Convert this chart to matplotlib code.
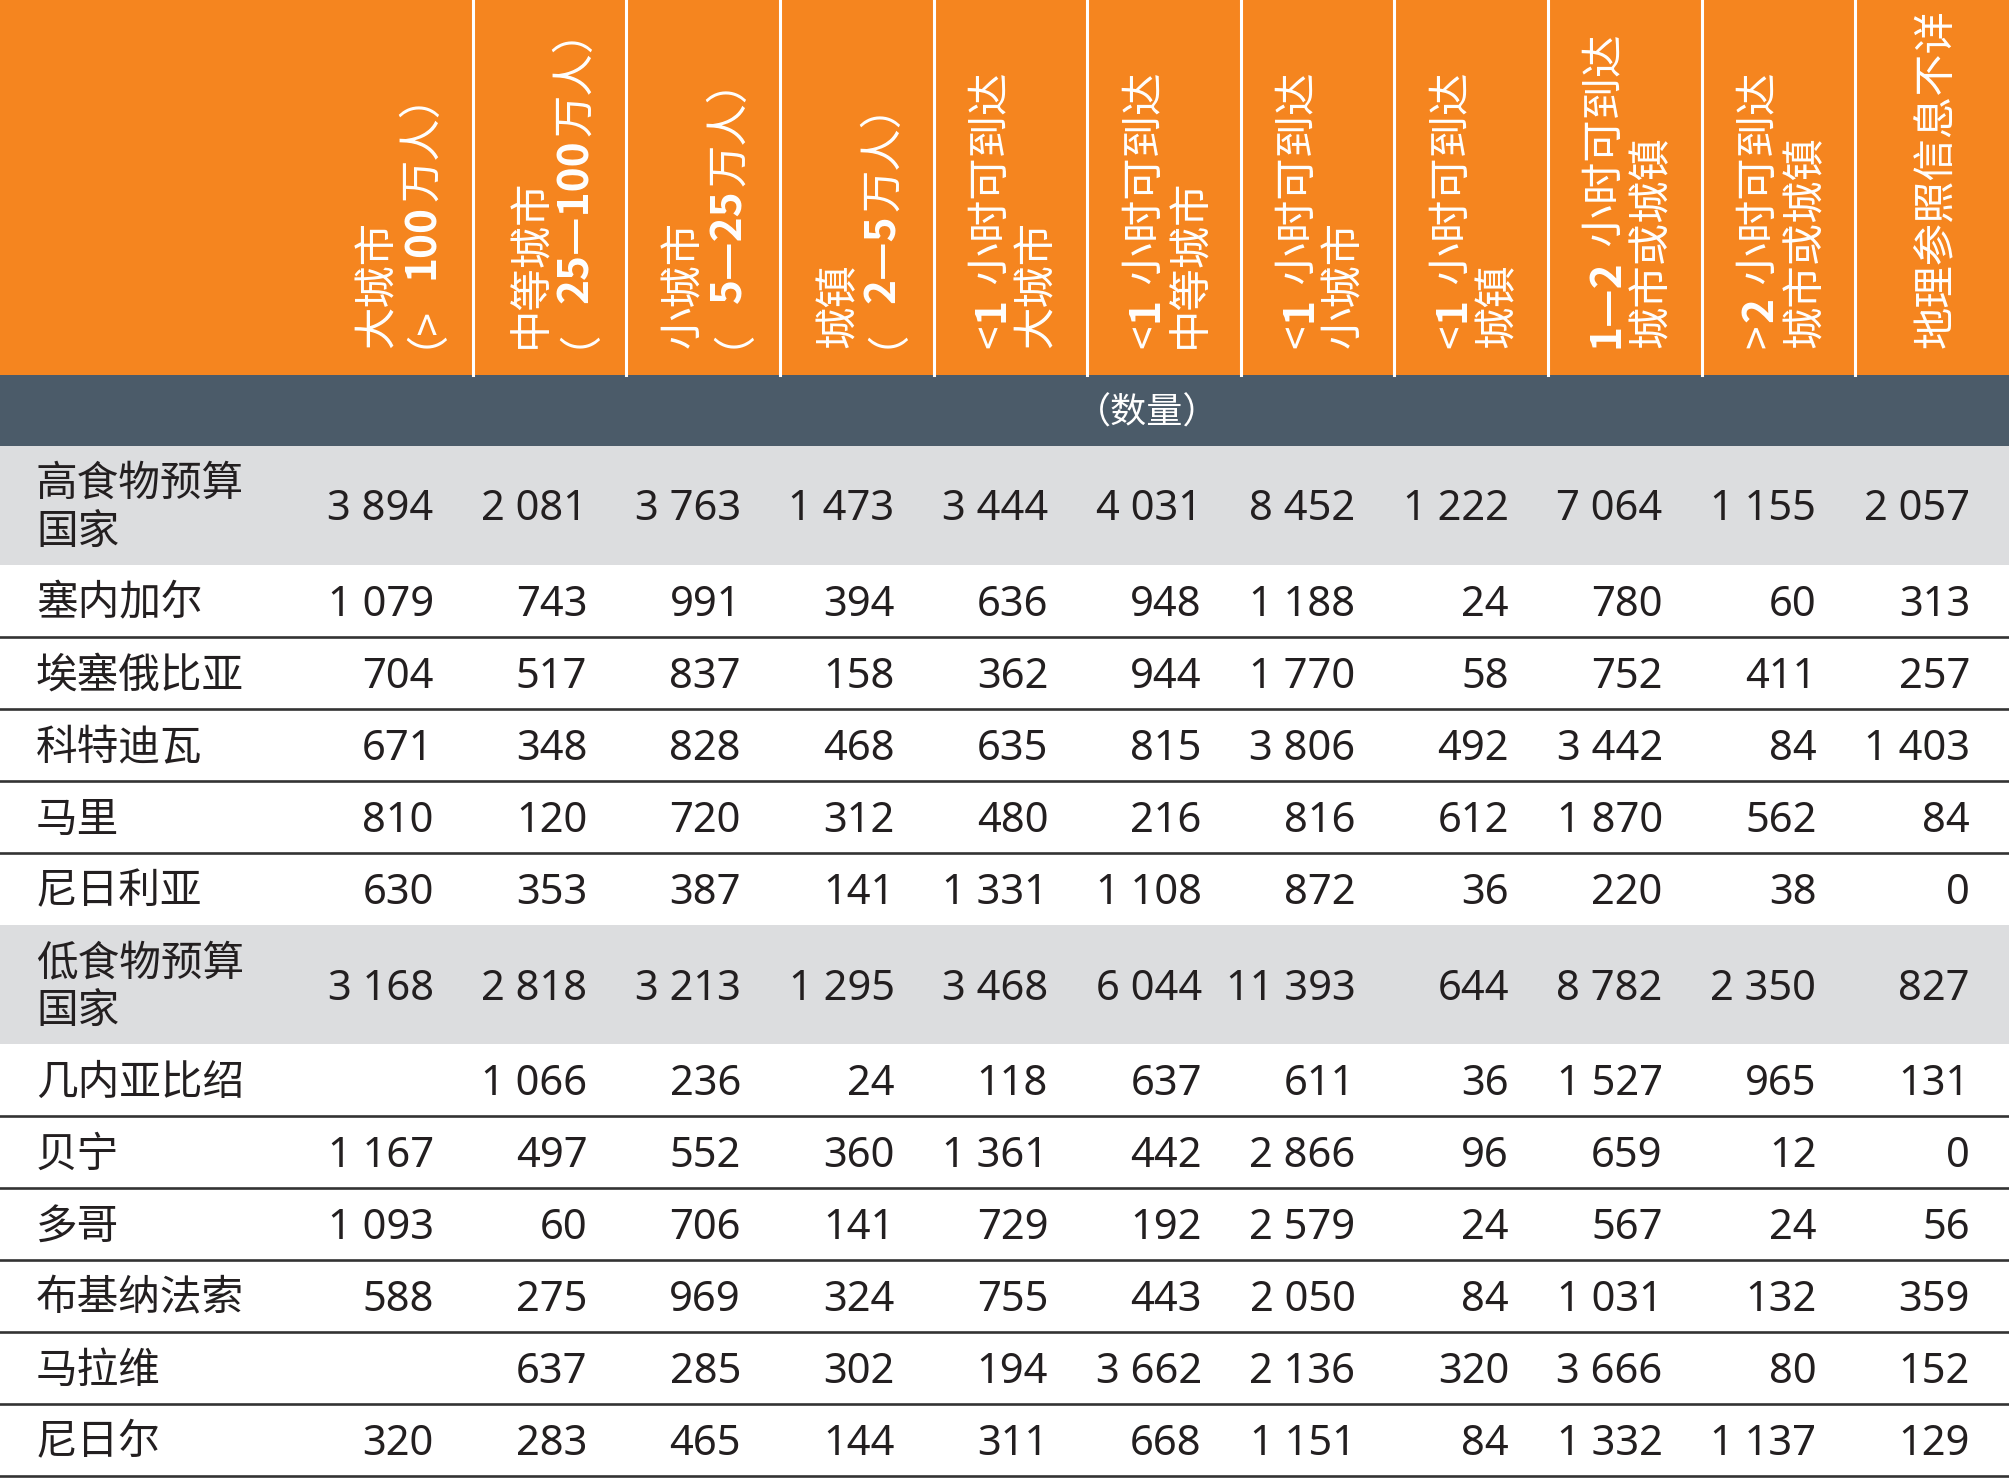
import re
import matplotlib
matplotlib.use("Agg")
import matplotlib.pyplot as plt
from matplotlib.patches import Rectangle

plt.rcParams['font.family'] = ['Noto Sans CJK SC', 'DejaVu Sans']

# column headers (rotated in the picture), one list entry per printed line
headers = [
    ["大城市", "（>100万人）"],
    ["中等城市", "（25—100万人）"],
    ["小城市", "（5—25万人）"],
    ["城镇", "（2—5万人）"],
    ["<1 小时可到达", "大城市"],
    ["<1 小时可到达", "中等城市"],
    ["<1 小时可到达", "小城市"],
    ["<1 小时可到达", "城镇"],
    ["1—2 小时可到达", "城市或城镇"],
    [">2 小时可到达", "城市或城镇"],
    ["地理参照信息不详"],
]
unit_label = "（数量）"

row_labels = ["高食物预算\n国家", "塞内加尔", "埃塞俄比亚", "科特迪瓦", "马里", "尼日利亚",
              "低食物预算\n国家", "几内亚比绍", "贝宁", "多哥", "布基纳法索", "马拉维", "尼日尔"]
is_group = [True, False, False, False, False, False,
            True, False, False, False, False, False, False]

high_total = [3894, 2081, 3763, 1473, 3444, 4031, 8452, 1222, 7064, 1155, 2057]
senegal = [1079, 743, 991, 394, 636, 948, 1188, 24, 780, 60, 313]
ethiopia = [704, 517, 837, 158, 362, 944, 1770, 58, 752, 411, 257]
cote_divoire = [671, 348, 828, 468, 635, 815, 3806, 492, 3442, 84, 1403]
mali = [810, 120, 720, 312, 480, 216, 816, 612, 1870, 562, 84]
nigeria = [630, 353, 387, 141, 1331, 1108, 872, 36, 220, 38, 0]
low_total = [3168, 2818, 3213, 1295, 3468, 6044, 11393, 644, 8782, 2350, 827]
guinea_bissau = [None, 1066, 236, 24, 118, 637, 611, 36, 1527, 965, 131]
benin = [1167, 497, 552, 360, 1361, 442, 2866, 96, 659, 12, 0]
togo = [1093, 60, 706, 141, 729, 192, 2579, 24, 567, 24, 56]
burkina_faso = [588, 275, 969, 324, 755, 443, 2050, 84, 1031, 132, 359]
malawi = [None, 637, 285, 302, 194, 3662, 2136, 320, 3666, 80, 152]
niger = [320, 283, 465, 144, 311, 668, 1151, 84, 1332, 1137, 129]

values = [high_total, senegal, ethiopia, cote_divoire, mali, nigeria,
          low_total, guinea_bissau, benin, togo, burkina_faso, malawi, niger]

ORANGE = "#F5851F"
SLATE = "#4B5B69"
GREY = "#DCDDDF"
INK = "#231F20"

W, H = 2009, 1480
label_w = 319
col_w = (W - label_w) / len(headers)
header_h = 375
band_h = 71
group_h = 119
row_h = 72
HEAD_FS = 30.5


def fmt(v):
    if v is None:
        return ""
    return f"{v:,}".replace(",", " ")


fig = plt.figure(figsize=(W / 100, H / 100), dpi=100)
ax = fig.add_axes([0, 0, 1, 1])
ax.set_xlim(0, W)
ax.set_ylim(H, 0)
ax.axis("off")
renderer = fig.canvas.get_renderer()


def header_line(xb, ybottom, line):
    # digits (and dashes between them) are bold, the rest regular
    runs = re.findall(r"[0-9—]+|[^0-9—]+", line)
    y0 = ybottom
    for r in runs:
        bold = r[0].isdigit() or r[0] == "—"
        # the opening full-width paren gets pushed sideways by agg when rotated
        dx = -20 if r.startswith("（") else 0
        t = ax.text(xb + dx, y0, r, rotation=90, rotation_mode="anchor",
                    ha="left", va="baseline", color="white", fontsize=HEAD_FS,
                    fontweight="bold" if bold else "normal")
        y0 -= t.get_window_extent(renderer).height + 3


# header
ax.add_patch(Rectangle((0, 0), W, header_h, color=ORANGE, lw=0))
for j, lines in enumerate(headers):
    x0 = label_w + j * col_w
    if j > 0:
        ax.plot([x0, x0], [0, header_h], color="white", lw=2.2)
    xc = x0 + col_w / 2
    n = len(lines)
    for k, line in enumerate(lines):
        gx = xc + (k - (n - 1) / 2) * 45
        header_line(gx + 16, header_h - 27, line)

# unit band
ax.add_patch(Rectangle((0, header_h), W, band_h, color=SLATE, lw=0))
ax.text(1147, header_h + band_h / 2 + 3, unit_label, ha="center", va="center",
        color="white", fontsize=26)

# body rows
y = header_h + band_h
for i, lab in enumerate(row_labels):
    h = group_h if is_group[i] else row_h
    if is_group[i]:
        ax.add_patch(Rectangle((0, y), W, h, color=GREY, lw=0))
    yc = y + h / 2
    ax.text(36, yc + 3, lab, ha="left", va="center", color=INK, fontsize=30,
            linespacing=1.22)
    for j, v in enumerate(values[i]):
        xr = label_w + (j + 1) * col_w - 39
        ax.text(xr, yc + 4, fmt(v), ha="right", va="center", color=INK,
                fontsize=30, family=["Noto Sans", "DejaVu Sans"])
    y += h
    nxt_group = i + 1 < len(row_labels) and is_group[i + 1]
    if not is_group[i] and not nxt_group:
        ax.plot([0, W], [y, y], color="#333333", lw=1.9)

fig.savefig("out.png", dpi=100)
